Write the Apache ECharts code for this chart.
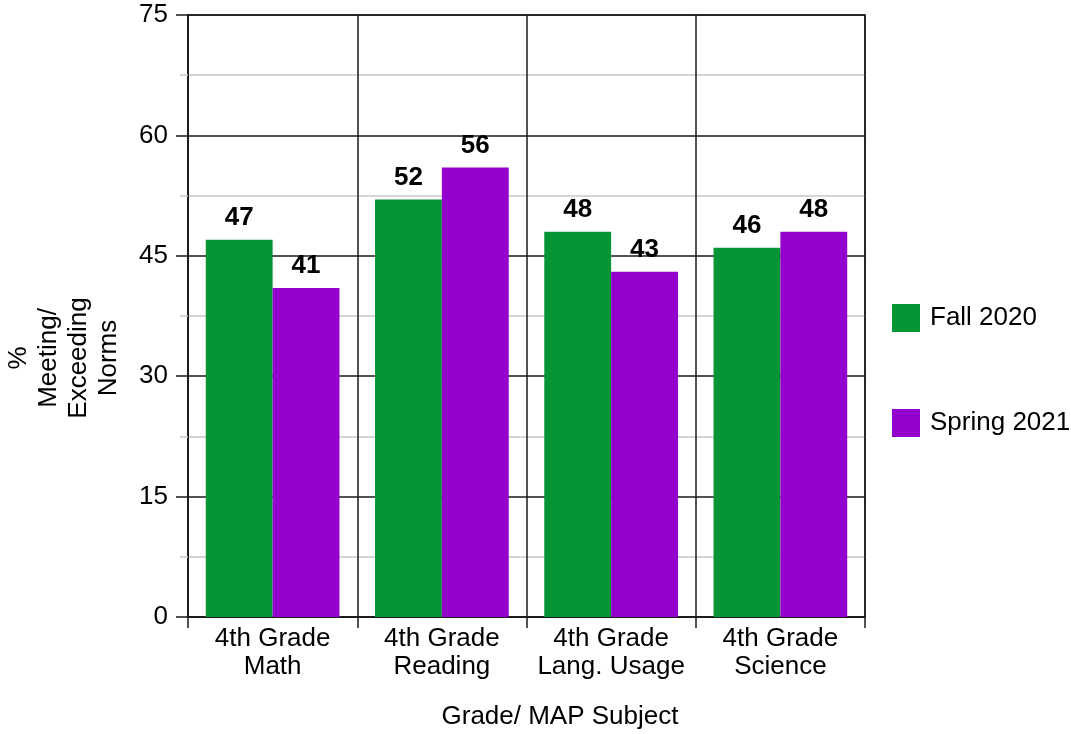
<!DOCTYPE html>
<html>
<head>
<meta charset="utf-8">
<script src="https://cdn.jsdelivr.net/npm/echarts@6/dist/echarts.min.js"></script>
<style>
html,body{margin:0;padding:0;background:#fff;}
#chart{width:1071px;height:734px;}
</style>
</head>
<body>
<div id="chart"></div>
<script>
const categories = ['4th Grade\nMath', '4th Grade\nReading', '4th Grade\nLang. Usage', '4th Grade\nScience'];
const fall2020 = [47, 52, 48, 46];
const spring2021 = [41, 56, 43, 48];
const seriesNames = ['Fall 2020', 'Spring 2021'];
const yTicks = { min: 0, max: 75, interval: 15 };
const yTitle = '%\nMeeting/\nExceeding\nNorms';
const xTitle = 'Grade/ MAP Subject';

const FONT = '"Liberation Sans", Arial, Helvetica, sans-serif';
const FS = 26;
const INK = '#000';
const LINE = '#1a1a1a';
const GREEN = '#069535';
const PURPLE = '#9400cc';

const chart = echarts.init(document.getElementById('chart'), null, { renderer: 'canvas' });

const labelStyle = {
  show: true,
  position: 'top',
  distance: 9,
  color: INK,
  fontFamily: FONT,
  fontWeight: 'bold',
  fontSize: FS
};

chart.setOption({
  backgroundColor: '#fff',
  animation: false,
  textStyle: { fontFamily: FONT },
  grid: {
    left: 188, right: 206, top: 15, bottom: 117,
    show: true, borderColor: LINE, borderWidth: 1.5, backgroundColor: 'transparent'
  },
  legend: {
    orient: 'vertical',
    left: 892,
    top: 304,
    padding: 0,
    itemWidth: 28,
    itemHeight: 28,
    itemGap: 77,
    icon: 'rect',
    textStyle: { fontFamily: FONT, fontSize: FS, color: INK, padding: [0, 0, 0, 5] },
    data: seriesNames
  },
  xAxis: {
    type: 'category',
    data: categories,
    boundaryGap: true,
    axisLine: { show: true, lineStyle: { color: LINE, width: 1.5 } },
    axisTick: { show: true, length: 11, lineStyle: { color: LINE, width: 1.5 } },
    splitLine: { show: true, lineStyle: { color: LINE, width: 1.5 } },
    axisLabel: {
      color: INK, fontFamily: FONT, fontSize: FS, lineHeight: 28, margin: 8, interval: 0
    }
  },
  yAxis: {
    type: 'value',
    min: yTicks.min,
    max: yTicks.max,
    interval: yTicks.interval,
    axisLine: { show: true, lineStyle: { color: LINE, width: 1.5 } },
    axisTick: { show: true, length: 12, lineStyle: { color: LINE, width: 1.5 } },
    splitLine: { show: true, lineStyle: { color: LINE, width: 1.5 } },
    minorTick: { show: true, splitNumber: 2, length: 8, lineStyle: { color: '#c8c8c8', width: 1.5 } },
    minorSplitLine: { show: true, lineStyle: { color: '#c8c8c8', width: 1.5 } },
    axisLabel: { color: INK, fontFamily: FONT, fontSize: FS, margin: 20 }
  },
  series: [
    {
      name: seriesNames[0],
      type: 'bar',
      data: fall2020,
      barGap: '0%',
      barCategoryGap: '21%',
      itemStyle: { color: GREEN },
      label: labelStyle,
      z: 3
    },
    {
      name: seriesNames[1],
      type: 'bar',
      data: spring2021,
      barGap: '0%',
      barCategoryGap: '21%',
      itemStyle: { color: PURPLE },
      label: labelStyle,
      z: 3
    }
  ],
  graphic: [
    {
      type: 'text',
      x: 64,
      y: 358,
      rotation: Math.PI / 2,
      style: {
        text: yTitle,
        fontFamily: FONT,
        fontSize: FS,
        lineHeight: 30,
        fill: INK,
        align: 'center',
        verticalAlign: 'middle'
      }
    },
    {
      type: 'text',
      x: 560,
      y: 717,
      style: {
        text: xTitle,
        fontFamily: FONT,
        fontSize: FS,
        fill: INK,
        align: 'center',
        verticalAlign: 'middle'
      }
    }
  ]
});
</script>
</body>
</html>
